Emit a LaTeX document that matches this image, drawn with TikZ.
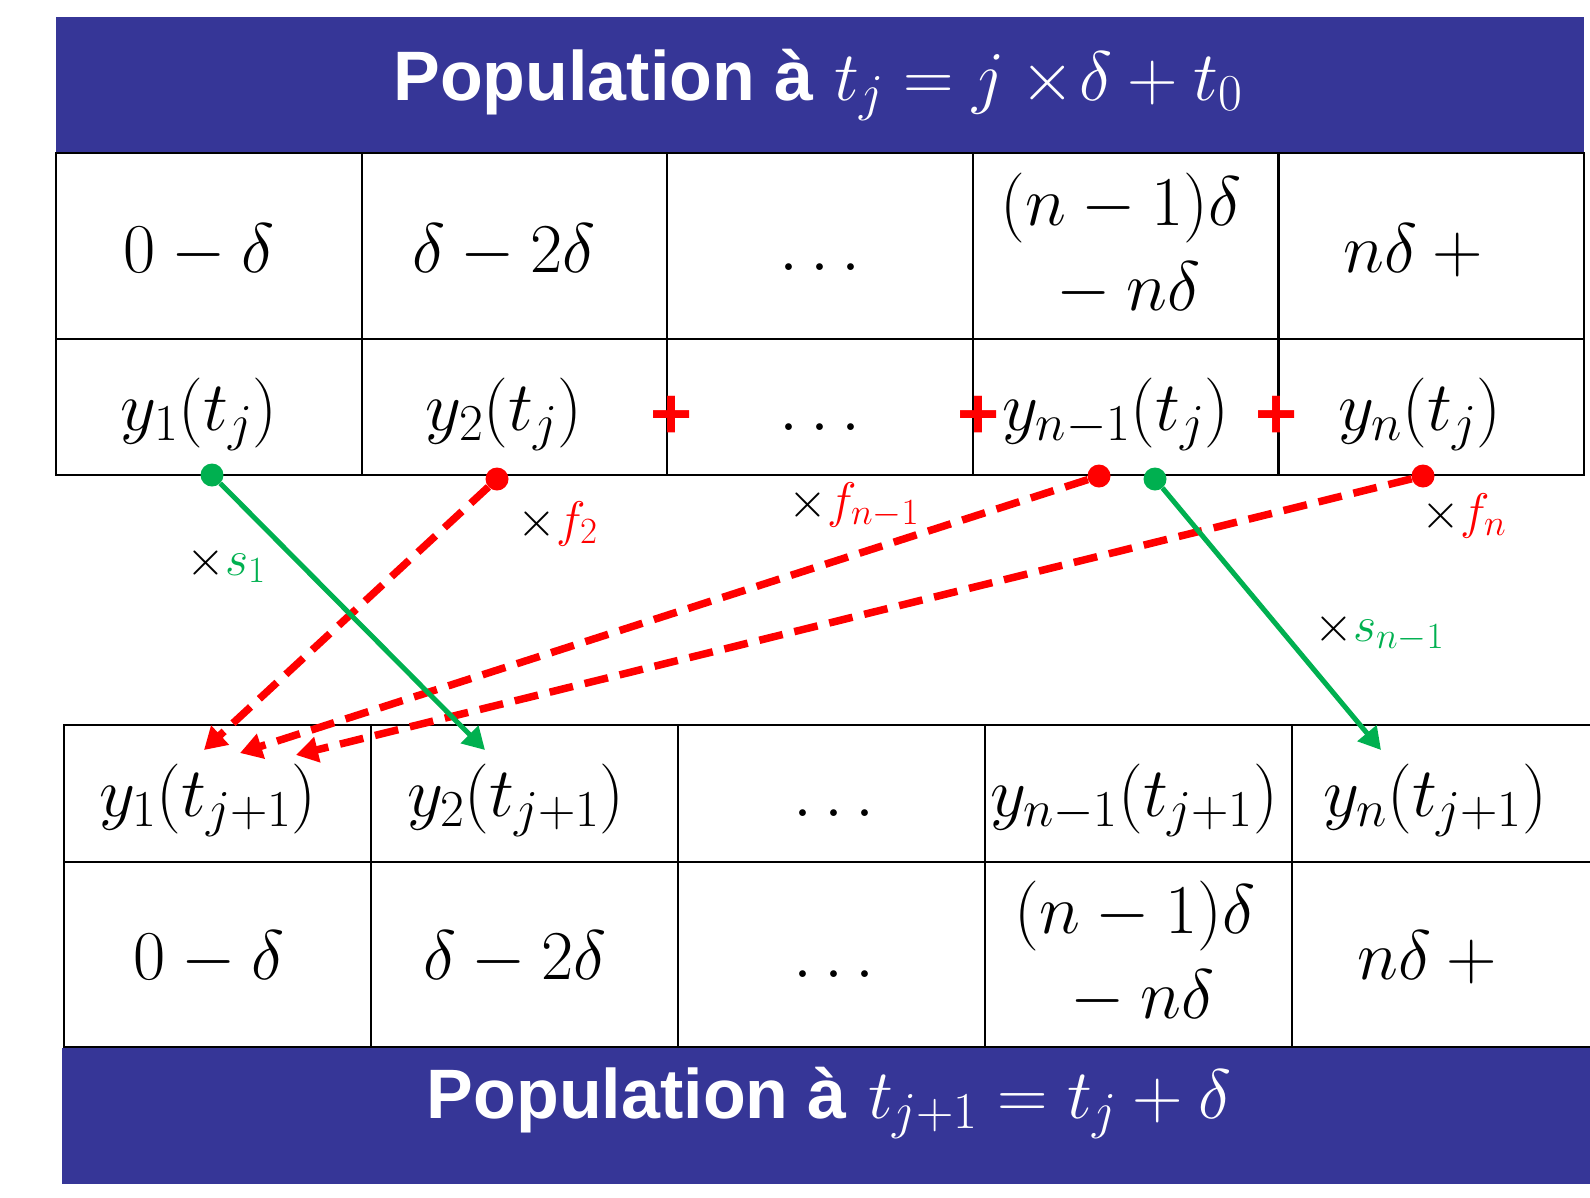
\RequirePackage{fix-cm}
\documentclass[tikz,border=0pt]{standalone}
\usepackage{fontspec}
\usetikzlibrary{arrows.meta}
\newfontfamily\bannerfont{Liberation Sans}
\renewcommand\defaultscriptratio{.74}
\renewcommand\defaultscriptscriptratio{.55}
\definecolor{bannerblue}{RGB}{54,54,151}
\definecolor{okgreen}{RGB}{0,176,80}
\definecolor{okred}{RGB}{255,0,0}
\tikzset{
  banner/.style={fill=bannerblue, draw=none, minimum width=1528pt, minimum height=136pt, inner sep=0pt, outer sep=0pt},
  bantext/.style={text=white, font=\fontsize{70}{84}\selectfont, inner sep=0pt, anchor=base},
  cell/.style={draw=black, line width=2.2pt, inner sep=0pt, outer sep=0pt},
  ctext/.style={font=\fontsize{70}{85}\selectfont, inner sep=0pt, anchor=base},
  ctwo/.style={font=\fontsize{70}{85}\selectfont, inner sep=0pt, align=center, anchor=center},
  redplus/.style={text=okred, font=\bannerfont\bfseries\fontsize{72}{80}\selectfont, inner sep=0pt},
  gdot/.style={circle, fill=okgreen, minimum size=23pt, inner sep=0pt},
  rdot/.style={circle, fill=okred, minimum size=23pt, inner sep=0pt},
  sarrow/.style={draw=okgreen, line width=5pt, -{Triangle[length=22pt,width=24pt]}},
  farrow/.style={draw=okred, line width=7.5pt, dash pattern=on 24pt off 12pt, -{Triangle[length=22pt,width=25pt]}},
  lab/.style={font=\fontsize{50}{60}\selectfont, inner sep=0pt, anchor=base west},
}
\begin{document}
\begin{tikzpicture}[x=1pt,y=-1pt]
\useasboundingbox (0,0) rectangle (1590,1197);

% top banner
\node[banner] (topban) at (820,85) {};
\node[bantext] (toptitle) at (818,100) {{\bannerfont\bfseries Population à} $t_j = j \mathbin{\times}\!\delta + t_0$};

% top table cells
\foreach \i in {1,...,5}{
  \node[cell, minimum width=305.6pt, minimum height=186pt] (T1\i) at ({208.8+305.6*(\i-1)},246) {};
  \node[cell, minimum width=305.6pt, minimum height=136pt] (T2\i) at ({208.8+305.6*(\i-1)},407) {};
}
% bottom table cells
\foreach \i in {1,...,5}{
  \node[cell, minimum width=307pt, minimum height=137pt] (B1\i) at ({217.5+307*(\i-1)},793.5) {};
  \node[cell, minimum width=307pt, minimum height=185pt] (B2\i) at ({217.5+307*(\i-1)},954.5) {};
}

% bottom banner
\node[banner] (botban) at (826,1115.5) {};
\node[bantext] (bottitle) at (829,1118) {{\bannerfont\bfseries Population à} $t_{j+1} = t_j + \delta$};

% top table texts
\node[ctext] (a1) at (199,272) {$0-\delta$};
\node[ctext] (a2) at (504,272) {$\delta-2\delta$};
\node[ctext] (a3) at (820,270) {$\ldots$};
\node[ctwo] (a4) at (1121,245) {$(n-1)\delta$\\${}-n\delta$};
\node[ctext] (a5) at (1421,272) {$n\delta+{}$};

\node[ctext] (b1) at (199,430) {$y_1(t_j)$};
\node[ctext] (b2) at (504,430) {$y_2(t_j)$};
\node[ctext] (b3) at (820,430) {$\ldots$};
\node[ctext] (b4) at (1116,430) {$y_{n-1}(t_j)$};
\node[ctext] (b5) at (1420,430) {$y_n(t_j)$};

% red plus signs
\node[redplus] (p1) at (672,417) {+};
\node[redplus] (p2) at (979,417) {+};
\node[redplus] (p3) at (1277,417) {+};

% bottom table texts
\node[ctext] (c1) at (208,816) {$y_1(t_{j+1})$};
\node[ctext] (c2) at (516,816) {$y_2(t_{j+1})$};
\node[ctext] (c3) at (834,816) {$\ldots$};
\begin{scope}
  \clip (B14.north west) rectangle (B14.south east);
  \node[ctext] (c4) at (1134,816) {$y_{n-1}(t_{j+1})$};
\end{scope}
\node[ctext] (c5) at (1435,816) {$y_n(t_{j+1})$};

\node[ctext] (d1) at (209,979) {$0-\delta$};
\node[ctext] (d2) at (515,979) {$\delta-2\delta$};
\node[ctext] (d3) at (834,977) {$\ldots$};
\node[ctwo] (d4) at (1135,953) {$(n-1)\delta$\\${}-n\delta$};
\node[ctext] (d5) at (1435,979) {$n\delta+{}$};

% dots
\node[gdot] (g1) at (212,475) {};
\node[rdot] (r2) at (497,479) {};
\node[rdot] (r4) at (1099,476) {};
\node[gdot] (g4) at (1155,479) {};
\node[rdot] (r5) at (1423,476) {};

% arrow ends
\coordinate (e1) at (485,750);
\coordinate (e2) at (204,750);
\coordinate (e4) at (240,753);
\coordinate (e5) at (296,755);
\coordinate (eg4) at (1381,750);

% arrows
\draw[farrow] (r2) -- (e2);
\draw[farrow] (r4) -- (e4);
\draw[farrow] (r5) -- (e5);
\draw[sarrow] (g1) -- (e1);
\draw[sarrow] (g4) -- (eg4);

% labels
\node[lab] (l1) at (186,575) {$\times$\textcolor{okgreen}{$s_1$}};
\node[lab] (l2) at (517,536) {$\times$\textcolor{okred}{$f_2$}};
\node[lab] (l3) at (788,517) {$\times$\textcolor{okred}{$f_{n-1}$}};
\node[lab] (l4) at (1421,528) {$\times$\textcolor{okred}{$f_n$}};
\node[lab] (l5) at (1314,641) {$\times$\textcolor{okgreen}{$s_{n-1}$}};
\end{tikzpicture}
\end{document}
